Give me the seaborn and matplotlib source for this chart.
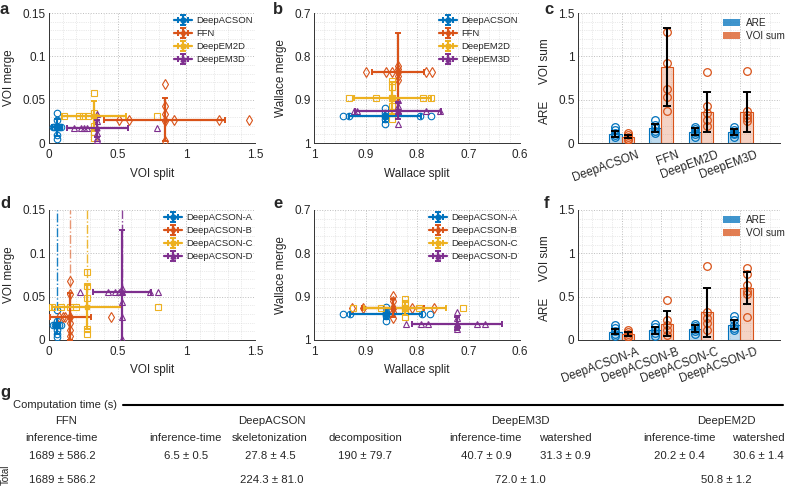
import numpy as np
import pandas as pd
import matplotlib
matplotlib.use("Agg")
import matplotlib.pyplot as plt
import matplotlib.transforms as mtransforms
from matplotlib.lines import Line2D
from matplotlib.patches import Patch
from matplotlib.colors import to_rgba
from matplotlib.ticker import MultipleLocator, FuncFormatter
import seaborn as sns

COLORS = ["#0072BD", "#D95319", "#EDB120", "#7E2F8E"]
MARKERS = ["o", "d", "s", "^"]

# ---- panel a / b / c : method comparison ----
methods_abc = ["DeepACSON", "FFN", "DeepEM2D", "DeepEM3D"]

a_split_mean = [0.058, 0.843, 0.328, 0.353]
a_split_sd = [0.034, 0.44, 0.23, 0.22]
a_merge_mean = [0.018, 0.027, 0.031, 0.017]
a_merge_sd = [0.010, 0.025, 0.017, 0.010]
a_split_samples = [[0.027, 0.045, 0.058, 0.07, 0.089],
                   [0.51, 0.585, 0.908, 1.24, 1.459],
                   [0.111, 0.22, 0.251, 0.283, 0.783],
                   [0.179, 0.234, 0.256, 0.275, 0.783]]
a_merge_samples = [[0.035, 0.027, 0.018, 0.009, 0.0045],
                   [0.068, 0.043, 0.033, 0.025, 0.002],
                   [0.058, 0.035, 0.02, 0.013, 0.006],
                   [0.034, 0.025, 0.012, 0.006, 0.003]]

b_split_mean = [0.862, 0.837, 0.848, 0.837]
b_split_sd = [0.07, 0.05, 0.075, 0.084]
b_merge_mean = [0.938, 0.835, 0.896, 0.925]
b_merge_sd = [0.013, 0.09, 0.036, 0.02]
b_split_samples = [[0.944, 0.932, 0.862, 0.794, 0.772],
                   [0.90, 0.861, 0.848, 0.783, 0.77],
                   [0.933, 0.88, 0.848, 0.789, 0.772],
                   [0.923, 0.916, 0.837, 0.783, 0.755]]
b_merge_samples = [[0.919, 0.93, 0.945, 0.957, 0.938],
                   [0.823, 0.83, 0.845, 0.854, 0.835],
                   [0.858, 0.87, 0.915, 0.944, 0.896],
                   [0.9, 0.915, 0.93, 0.955, 0.925]]

c_are_mean = [0.104, 0.173, 0.13, 0.127]
c_are_sd = [0.03, 0.05, 0.04, 0.04]
c_voi_mean = [0.073, 0.877, 0.358, 0.358]
c_voi_sd = [0.02, 0.455, 0.23, 0.23]
c_are_samples = [[0.18, 0.15, 0.12, 0.09, 0.07],
                 [0.26, 0.21, 0.17, 0.14, 0.11],
                 [0.19, 0.16, 0.13, 0.1, 0.07],
                 [0.18, 0.15, 0.12, 0.1, 0.07]]
c_voi_samples = [[0.11, 0.09, 0.07, 0.05, 0.04],
                 [1.277, 0.923, 0.627, 0.53, 0.365],
                 [0.815, 0.43, 0.35, 0.27, 0.2],
                 [0.827, 0.365, 0.327, 0.29, 0.25]]

# ---- panel d / e / f : DeepACSON variants ----
methods_def = ["DeepACSON-A", "DeepACSON-B", "DeepACSON-C", "DeepACSON-D"]

d_split_mean = [0.058, 0.156, 0.279, 0.531]
d_split_sd = [0.02, 0.15, 0.255, 0.21]
d_merge_mean = [0.017, 0.027, 0.038, 0.055]
d_merge_sd = [0.010, 0.027, 0.025, 0.072]
d_split_samples = [[0.03, 0.045, 0.06, 0.07, 0.085],
                   [0.075, 0.10, 0.115, 0.156, 0.45],
                   [0.019, 0.09, 0.15, 0.2, 0.793],
                   [0.224, 0.433, 0.48, 0.51, 0.733, 0.796]]
d_merge_samples = [[0.035, 0.022, 0.012, 0.0065, 0.003],
                   [0.068, 0.053, 0.02, 0.012, 0.005],
                   [0.079, 0.062, 0.048, 0.013, 0.0065],
                   [0.06, 0.044, 0.026, 0.001, 0.055]]

e_split_mean = [0.861, 0.847, 0.823, 0.722]
e_split_sd = [0.07, 0.06, 0.08, 0.088]
e_merge_mean = [0.939, 0.926, 0.927, 0.962]
e_merge_sd = [0.012, 0.02, 0.015, 0.015]
e_split_samples = [[0.944, 0.931, 0.861, 0.79, 0.774],
                   [0.927, 0.905, 0.847, 0.809, 0.767],
                   [0.924, 0.87, 0.823, 0.797, 0.711],
                   [0.821, 0.792, 0.778, 0.683, 0.668]]
e_merge_samples = [[0.924, 0.935, 0.945, 0.957, 0.939],
                   [0.899, 0.91, 0.935, 0.95, 0.926],
                   [0.906, 0.915, 0.927, 0.947, 0.93],
                   [0.935, 0.95, 0.962, 0.975, 0.965]]

f_are_mean = [0.096, 0.11, 0.13, 0.177]
f_are_sd = [0.03, 0.035, 0.04, 0.05]
f_voi_mean = [0.07, 0.19, 0.32, 0.6]
f_voi_sd = [0.02, 0.14, 0.28, 0.19]
f_are_samples = [[0.17, 0.14, 0.1, 0.07, 0.05],
                 [0.18, 0.15, 0.11, 0.08, 0.05],
                 [0.19, 0.16, 0.13, 0.1, 0.07],
                 [0.277, 0.23, 0.175, 0.14, 0.11]]
f_voi_samples = [[0.11, 0.09, 0.07, 0.05, 0.04],
                 [0.46, 0.23, 0.17, 0.12, 0.06],
                 [0.854, 0.327, 0.25, 0.2, 0.115],
                 [0.835, 0.76, 0.635, 0.565, 0.53, 0.27]]

# ---- panel g : computation time table ----
table_groups = ["FFN", "DeepACSON", "DeepEM3D", "DeepEM2D"]
table_steps = ["inference-time", "inference-time", "skeletonization", "decomposition",
               "inference-time", "watershed", "inference-time", "watershed"]
table_step_times = ["1689 ± 586.2", "6.5 ± 0.5", "27.8 ± 4.5", "190 ± 79.7",
                    "40.7 ± 0.9", "31.3 ± 0.9", "20.2 ± 0.4", "30.6 ± 1.4"]
table_totals = ["1689 ± 586.2", "224.3 ± 81.0", "72.0 ± 1.0", "50.8 ± 1.2"]

sns.set_style("white")
plt.rcParams["font.family"] = ["Liberation Sans", "DejaVu Sans"]
plt.rcParams["font.size"] = 8.5

W, H = 786, 492
FS = 8.5
LEG_FS = 6.8
TAB_FS = 8.2
fig = plt.figure(figsize=(W / 100, H / 100), dpi=100)


def px_axes(left, top, right, bottom):
    return fig.add_axes([left / W, 1 - bottom / H, (right - left) / W, (bottom - top) / H])


def style_axes(ax, xminor, yminor):
    sns.despine(ax=ax)
    ax.xaxis.set_minor_locator(MultipleLocator(xminor))
    ax.yaxis.set_minor_locator(MultipleLocator(yminor))
    ax.grid(which="major", ls=":", lw=0.7, color="#bdbdbd")
    ax.grid(which="minor", ls=":", lw=0.5, color="#d6d6d6")
    ax.set_axisbelow(True)
    ax.tick_params(which="major", direction="in", length=3, width=0.7, labelsize=FS)
    ax.tick_params(axis="x", which="major", pad=4)
    ax.tick_params(axis="y", which="major", pad=2.5)
    ax.tick_params(which="minor", length=0)
    for s in ("left", "bottom"):
        ax.spines[s].set_linewidth(0.7)
        ax.spines[s].set_color("#333333")
    fmt = FuncFormatter(lambda v, p: f"{v:g}")
    ax.yaxis.set_major_formatter(fmt)


def scatter_panel(ax, names, xs, ys, xm, ym, xe, ye):
    for i, name in enumerate(names):
        c, m = COLORS[i], MARKERS[i]
        ax.plot(xs[i], [ym[i]] * len(xs[i]), ls="none", marker=m, ms=4.7,
                mfc="none", mec=c, mew=0.8, zorder=3)
        ax.plot([xm[i]] * len(ys[i]), ys[i], ls="none", marker=m, ms=4.7,
                mfc="none", mec=c, mew=0.8, zorder=3)
        ax.errorbar(xm[i], ym[i], xerr=xe[i], yerr=ye[i], color=c, marker=m, ms=3.5,
                    lw=1.6, capsize=2.5, capthick=1.4, label=name, zorder=4)
    ax.legend(loc="upper right", bbox_to_anchor=(1.03, 1.04), frameon=False, fontsize=LEG_FS,
              handlelength=2.0, labelspacing=0.42, handletextpad=0.4)


def bar_panel(ax, names, are_m, are_s, voi_m, voi_s, are_pts, voi_pts):
    df = pd.DataFrame({"method": names * 2,
                       "metric": ["ARE"] * len(names) + ["VOI sum"] * len(names),
                       "value": are_m + voi_m})
    sns.barplot(data=df, x="method", y="value", hue="metric", palette=COLORS[:2],
                width=0.62, errorbar=None, saturation=1, legend=False, ax=ax, zorder=2)
    bars = ax.patches
    sds = are_s + voi_s
    pts = are_pts + voi_pts
    for k, p in enumerate(bars):
        col = COLORS[0] if k < len(names) else COLORS[1]
        p.set_facecolor(to_rgba(col, 0.25))
        p.set_edgecolor(col)
        p.set_linewidth(0.8)
        cx = p.get_x() + p.get_width() / 2
        ax.plot([cx] * len(pts[k]), pts[k], ls="none", marker="o", ms=5.5,
                mfc="none", mec=col, mew=0.9, zorder=3)
        ax.errorbar(cx, p.get_height(), yerr=sds[k], fmt="none", ecolor="black",
                    elinewidth=1.5, capsize=3, capthick=1.4, zorder=4)
    ax.set_xlim(-1.1, 4.0)
    ax.set_ylim(0, 1.5)
    ax.set_yticks([0, 0.5, 1, 1.5])
    ax.set_xticks(range(len(names)))
    ax.set_xlabel("")
    ax.set_ylabel("")
    style_axes(ax, 0.25, 0.1)
    ax.set_xticklabels(names, rotation=20, ha="right", rotation_mode="anchor")
    offset = mtransforms.ScaledTranslation(0.15, 0, fig.dpi_scale_trans)
    for lbl in ax.get_xticklabels():
        lbl.set_transform(lbl.get_transform() + offset)
    ax.text(-0.165, 0.24, "ARE", rotation=90, transform=ax.transAxes, ha="center", va="center", fontsize=FS)
    ax.text(-0.165, 0.63, "VOI sum", rotation=90, transform=ax.transAxes, ha="center", va="center", fontsize=FS)
    handles = [Patch(facecolor=to_rgba(COLORS[0], 0.75), edgecolor="none", label="ARE"),
               Patch(facecolor=to_rgba(COLORS[1], 0.75), edgecolor="none", label="VOI sum")]
    ax.legend(handles=handles, loc="upper right", bbox_to_anchor=(1.07, 1.03), frameon=False,
              fontsize=7.2, handlelength=1.7, handleheight=0.8, labelspacing=0.3, handletextpad=0.6)


def finish_scatter(ax, xlabel, ylabel, voi):
    if voi:
        ax.set_xlim(0, 1.5)
        ax.set_ylim(0, 0.15)
        ax.set_xticks([0, 0.5, 1, 1.5])
        ax.set_yticks([0, 0.05, 0.1, 0.15])
        style_axes(ax, 0.1, 0.01)
    else:
        ax.set_xlim(1, 0.6)
        ax.set_ylim(1, 0.7)
        ax.set_xticks([1, 0.9, 0.8, 0.7, 0.6])
        ax.set_yticks([1, 0.9, 0.8, 0.7])
        style_axes(ax, 0.02, 0.02)
    ax.xaxis.set_major_formatter(FuncFormatter(lambda v, p: f"{v:g}"))
    ax.set_xlabel(xlabel, fontsize=FS, labelpad=5)
    ax.set_ylabel(ylabel, fontsize=FS, labelpad=5)


# a
ax_a = px_axes(49, 13, 255, 143)
scatter_panel(ax_a, methods_abc, a_split_samples, a_merge_samples,
              a_split_mean, a_merge_mean, a_split_sd, a_merge_sd)
finish_scatter(ax_a, "VOI split", "VOI merge", True)

# b
ax_b = px_axes(314, 13, 520, 143)
scatter_panel(ax_b, methods_abc, b_split_samples, b_merge_samples,
              b_split_mean, b_merge_mean, b_split_sd, b_merge_sd)
finish_scatter(ax_b, "Wallace split", "Wallace merge", False)

# c
ax_c = px_axes(578, 13, 780, 143)
bar_panel(ax_c, methods_abc, c_are_mean, c_are_sd, c_voi_mean, c_voi_sd,
          c_are_samples, c_voi_samples)

# d
ax_d = px_axes(49, 210, 255, 340)
for i in range(len(methods_def)):
    ax_d.vlines(d_split_mean[i], d_merge_mean[i], 0.15, colors=COLORS[i],
                linestyles="-.", lw=1.0, alpha=0.9 if i != 1 else 0.6, zorder=2)
scatter_panel(ax_d, methods_def, d_split_samples, d_merge_samples,
              d_split_mean, d_merge_mean, d_split_sd, d_merge_sd)
finish_scatter(ax_d, "VOI split", "VOI merge", True)

# e
ax_e = px_axes(314, 210, 520, 340)
scatter_panel(ax_e, methods_def, e_split_samples, e_merge_samples,
              e_split_mean, e_merge_mean, e_split_sd, e_merge_sd)
finish_scatter(ax_e, "Wallace split", "Wallace merge", False)

# f
ax_f = px_axes(578, 210, 780, 340)
bar_panel(ax_f, methods_def, f_are_mean, f_are_sd, f_voi_mean, f_voi_sd,
          f_are_samples, f_voi_samples)

# panel letters
for lab, (x, y) in zip("abcdef", [(4, 9), (278, 9), (549, 9), (5, 203), (278, 203), (547, 204)]):
    fig.text(x / W, 1 - y / H, lab, fontsize=12, fontweight="bold", ha="center", va="center")

# g: computation time table
fig.text(5 / W, 1 - 392 / H, "g", fontsize=12, fontweight="bold", ha="center", va="center")
fig.text(13 / W, 1 - 405 / H, "Computation time (s)", fontsize=8.0, ha="left", va="center")
fig.add_artist(Line2D([123 / W, 783 / W], [1 - 405 / H] * 2, color="black", lw=1.5))
group_x = [66, 272, 520, 726]
step_x = [62, 186, 270, 365, 486, 565, 679, 758]
total_x = [62, 272, 520, 726]
for g, x in zip(table_groups, group_x):
    fig.text(x / W, 1 - 421 / H, g, fontsize=TAB_FS, ha="center", va="center")
for s, t, x in zip(table_steps, table_step_times, step_x):
    fig.text(x / W, 1 - 438 / H, s, fontsize=TAB_FS, ha="center", va="center")
    fig.text(x / W, 1 - 456 / H, t, fontsize=TAB_FS, ha="center", va="center")
for t, x in zip(table_totals, total_x):
    fig.text(x / W, 1 - 480 / H, t, fontsize=TAB_FS, ha="center", va="center")
fig.text(6 / W, 1 - 475 / H, "Total", fontsize=7, rotation=90, ha="center", va="center")

fig.savefig("out.png", dpi=100)
